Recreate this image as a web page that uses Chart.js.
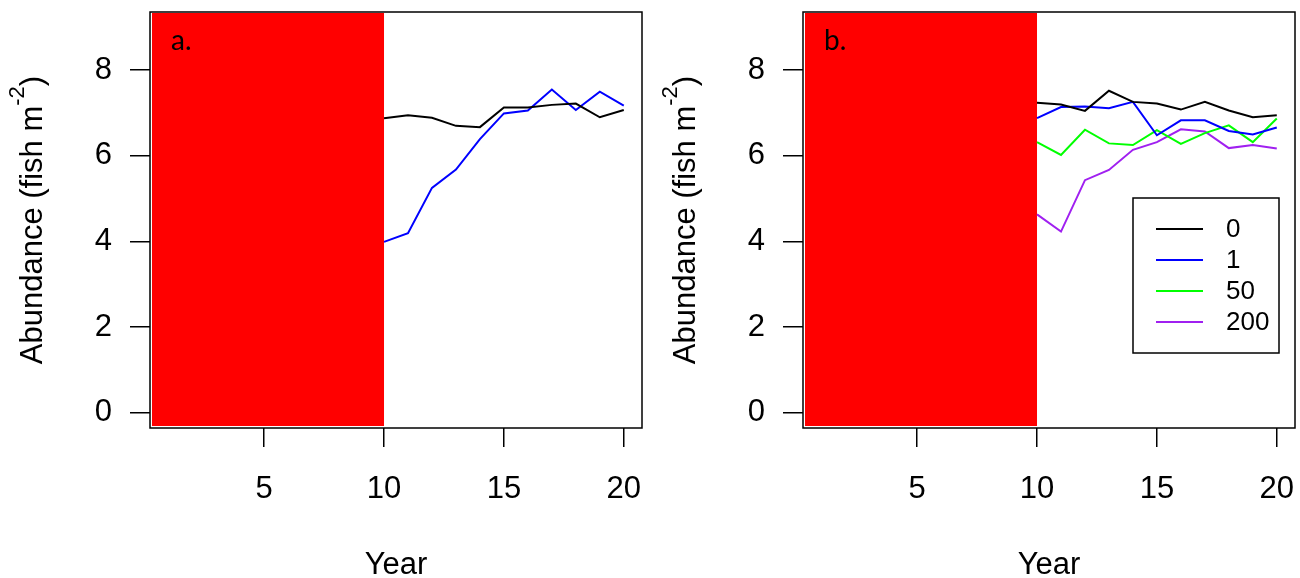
<!DOCTYPE html>
<html>
<head>
<meta charset="utf-8">
<script src="https://cdn.jsdelivr.net/npm/chart.js@4.4.0/dist/chart.umd.min.js"></script>
<style>
  html, body { margin: 0; padding: 0; background: #fff; overflow: hidden; }
  #wrap { position: relative; width: 1300px; height: 578px; overflow: hidden; }
  canvas { position: absolute; top: 0; }
</style>
</head>
<body>
<div id="wrap">
  <canvas id="chartA" width="650" height="578" style="left:0"></canvas>
  <canvas id="chartB" width="650" height="578" style="left:653px"></canvas>
</div>
<script>
// years after the red period
const years = [10, 11, 12, 13, 14, 15, 16, 17, 18, 19, 20];

// panel a
const aLine0 = [6.88, 6.95, 6.89, 6.70, 6.67, 7.13, 7.13, 7.19, 7.22, 6.90, 7.07];
const aLine1 = [3.99, 4.19, 5.25, 5.68, 6.39, 6.99, 7.06, 7.55, 7.07, 7.50, 7.17];

// panel b
const bLine0 = [7.24, 7.20, 7.05, 7.52, 7.26, 7.22, 7.08, 7.26, 7.06, 6.90, 6.95];
const bLine1 = [6.88, 7.14, 7.15, 7.11, 7.26, 6.48, 6.83, 6.83, 6.58, 6.50, 6.66];
const bLine50 = [6.32, 6.02, 6.61, 6.29, 6.25, 6.60, 6.28, 6.53, 6.71, 6.32, 6.87];
const bLine200 = [4.63, 4.23, 5.43, 5.67, 6.14, 6.32, 6.62, 6.57, 6.18, 6.25, 6.17];

const xTicks = [5, 10, 15, 20];
const yTicks = [0, 2, 4, 6, 8];
const shadeEnd = 10;
const legendLabels = ["0", "1", "50", "200"];
const lineColors = ["#000000", "#0000FF", "#00FF00", "#A020F0"];

Chart.defaults.font.family = '"Liberation Sans", Arial, sans-serif';
Chart.defaults.color = "#000";

function points(vals) {
    return years.map((yr, i) => ({ x: yr, y: vals[i] }));
}

function drawYTitle(ctx, cx, cy) {
    const main = '31px "Liberation Sans", Arial, sans-serif';
    const sup = '22px "Liberation Sans", Arial, sans-serif';
    const p1 = "Abundance (fish m", p2 = "-2", p3 = ")";
    ctx.font = main;
    let w1 = ctx.measureText(p1).width;
    let w3 = ctx.measureText(p3).width;
    ctx.font = sup;
    let w2 = ctx.measureText(p2).width;
    let x0 = -(w1 + w2 + w3) / 2;
    ctx.save();
    ctx.translate(cx, cy);
    ctx.rotate(-Math.PI / 2);
    ctx.fillStyle = "#000";
    ctx.textAlign = "left";
    ctx.textBaseline = "alphabetic";
    ctx.font = main;
    ctx.fillText(p1, x0, 0);
    ctx.font = sup;
    ctx.fillText(p2, x0 + w1, -18);
    ctx.font = main;
    ctx.fillText(p3, x0 + w1 + w2, 0);
    ctx.restore();
}

const frame = {
    id: "frame",
    beforeDatasetsDraw(chart) {
        const { ctx, chartArea: a, scales: { x } } = chart;
        let right = x.getPixelForValue(shadeEnd);
        ctx.save();
        ctx.fillStyle = "#FF0000";
        ctx.fillRect(a.left + 2, a.top + 1, right - a.left - 2, a.bottom - a.top - 3);
        ctx.restore();
    },
    afterDraw(chart, args, opts) {
        const { ctx, chartArea: a } = chart;
        ctx.save();
        ctx.strokeStyle = "#000";
        ctx.lineWidth = 1.5;
        ctx.strokeRect(a.left, a.top, a.right - a.left, a.bottom - a.top);

        ctx.fillStyle = "#000";
        ctx.font = '28px Lato, "Open Sans", sans-serif';
        ctx.textAlign = "left";
        ctx.textBaseline = "alphabetic";
        ctx.fillText(opts.label, a.left + 21, a.top + 38);
        ctx.restore();

        drawYTitle(ctx, 42, (a.top + a.bottom) / 2);

        if (opts.legend) {
            let lx = a.left + 330, ly = a.top + 186, lw = 146, lh = 155;
            ctx.save();
            ctx.strokeStyle = "#000";
            ctx.lineWidth = 1.5;
            ctx.strokeRect(lx, ly, lw, lh);
            ctx.font = '26px "Liberation Sans", Arial, sans-serif';
            ctx.textBaseline = "middle";
            ctx.lineWidth = 2;
            chart.data.datasets.forEach((ds, i) => {
                let yy = ly + 31 + i * 31;
                ctx.strokeStyle = ds.borderColor;
                ctx.beginPath();
                ctx.moveTo(lx + 23, yy);
                ctx.lineTo(lx + 70, yy);
                ctx.stroke();
                ctx.fillStyle = "#000";
                ctx.fillText(ds.label, lx + 93, yy + 1);
            });
            ctx.restore();
        }
    }
};

function noPad(s) {
    s.paddingTop = 0;
    s.paddingBottom = 0;
    s.paddingLeft = 0;
    s.paddingRight = 0;
}

function makeScales() {
    return {
        x: {
            type: "linear",
            min: 0.24,
            max: 20.76,
            afterBuildTicks: s => { s.ticks = xTicks.map(v => ({ value: v })); },
            afterFit: s => { s.height = 150; noPad(s); },
            grid: { drawOnChartArea: false, drawTicks: true, tickLength: 19, color: "#000", lineWidth: 1.5 },
            border: { display: false },
            ticks: { autoSkip: false, maxRotation: 0, padding: 24, color: "#000", font: { size: 31 } },
            title: { display: true, text: "Year", color: "#000", font: { size: 31, lineHeight: 0.8 }, padding: { top: 0, bottom: 0 } }
        },
        y: {
            type: "linear",
            min: -0.36,
            max: 9.36,
            afterBuildTicks: s => { s.ticks = yTicks.map(v => ({ value: v })); },
            afterFit: s => { s.width = 150; noPad(s); },
            grid: { drawOnChartArea: false, drawTicks: true, tickLength: 20, color: "#000", lineWidth: 1.5 },
            border: { display: false },
            ticks: { autoSkip: false, padding: 18, color: "#000", font: { size: 31 } }
        }
    };
}

function makeChart(id, series, label, legend) {
    let datasets = series.map((vals, i) => ({
        label: legendLabels[i],
        data: points(vals),
        borderColor: lineColors[i],
        borderWidth: 2,
        pointRadius: 0,
        fill: false,
        tension: 0
    }));
    return new Chart(document.getElementById(id).getContext("2d"), {
        type: "line",
        data: { datasets: datasets },
        options: {
            responsive: false,
            animation: false,
            layout: { padding: { top: 12, right: 8, left: 0, bottom: 0 } },
            plugins: {
                legend: { display: false },
                tooltip: { enabled: false },
                frame: { label: label, legend: legend }
            },
            scales: makeScales()
        },
        plugins: [frame]
    });
}

makeChart("chartA", [aLine0, aLine1], "a.", false);
makeChart("chartB", [bLine0, bLine1, bLine50, bLine200], "b.", true);
</script>
</body>
</html>
